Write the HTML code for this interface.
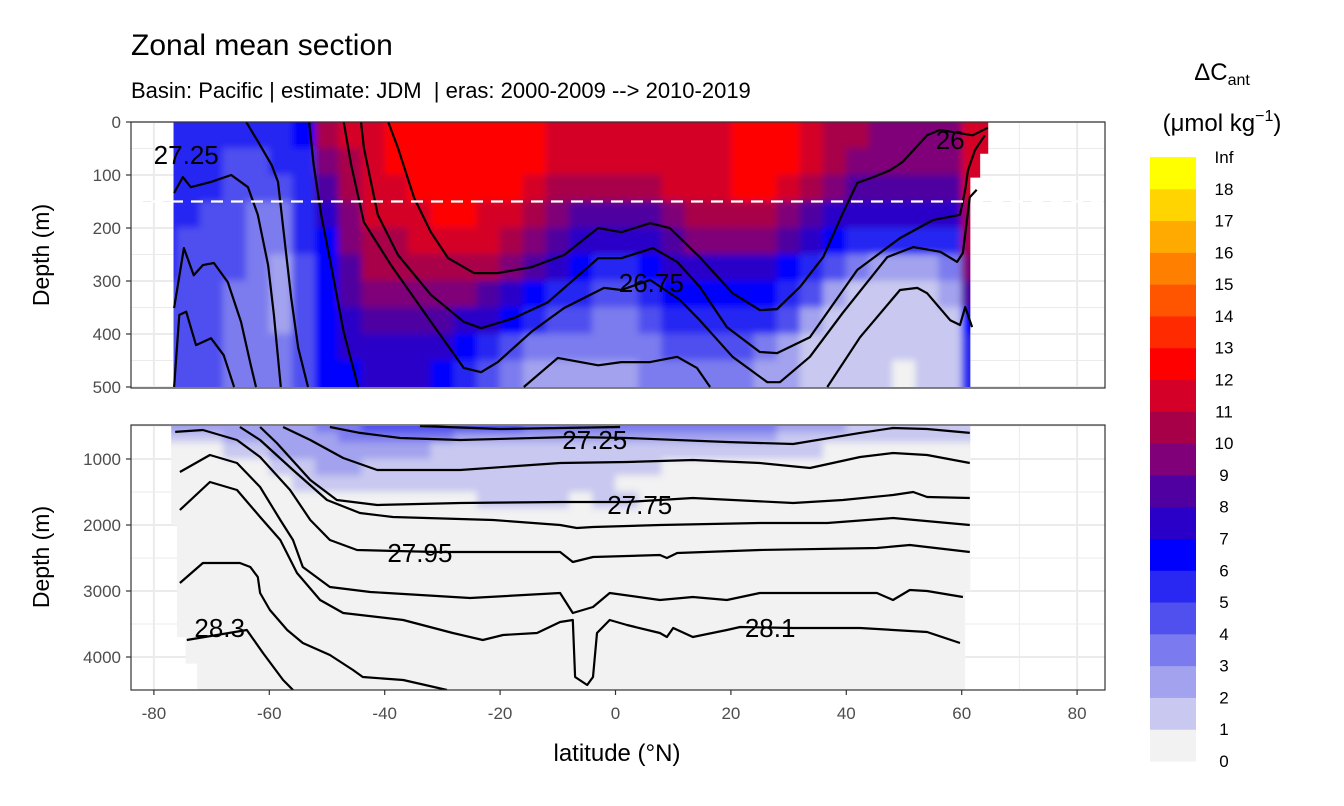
<!DOCTYPE html>
<html><head><meta charset="utf-8"><style>
html,body{margin:0;padding:0;background:#fff;}
svg{display:block;font-family:"Liberation Sans",Arial,sans-serif;}
</style></head><body>
<svg id="chart" width="1344" height="806" viewBox="0 0 1344 806" xmlns="http://www.w3.org/2000/svg">
<defs>
<clipPath id="clipTopPanel"><rect x="131" y="122" width="974" height="266"/></clipPath>
<clipPath id="clipBotPanel"><rect x="131" y="425" width="974" height="265"/></clipPath>
<clipPath id="clipTopData"><path id="topDataPath"/></clipPath>
<clipPath id="clipBotData"><path id="botDataPath"/></clipPath>
<filter id="soften" x="-5%" y="-5%" width="110%" height="110%"><feGaussianBlur stdDeviation="3.5"/></filter>
</defs>
<text x="131" y="55" font-size="30" fill="#000">Zonal mean section</text>
<text x="131" y="98" font-size="22" fill="#000" xml:space="preserve">Basin: Pacific | estimate: JDM  | eras: 2000-2009 --&gt; 2010-2019</text>
<g id="gTop"></g>
<g id="gBot"></g>
<g id="gAxes"></g>
<g id="gLegend">
<text x="1222" y="80" font-size="24" text-anchor="middle">ΔC<tspan font-size="16" dy="5">ant</tspan></text>
<text x="1222" y="131" font-size="24" text-anchor="middle">(μmol kg<tspan font-size="16" dy="-10">−1</tspan><tspan dy="10">)</tspan></text>
</g>
</svg>
<script>
const NS = "http://www.w3.org/2000/svg";
// ---- data ----
const bandColors = ["#f2f2f2","#c8c8f0","#a2a2ee","#7b7bef","#5050ef","#2828f2","#0000ff","#2a00c8","#5000a0","#7f0078","#a80048","#d40028","#ff0000","#ff2a00","#ff5500","#ff8000","#ffaa00","#ffd400","#ffff00"];
const legendLabels = ["0","1","2","3","4","5","6","7","8","9","10","11","12","13","14","15","16","17","18","Inf"];
const gridLats = [-78,-74,-70,-66,-62,-58,-54,-50,-46,-42,-38,-34,-30,-26,-22,-18,-14,-10,-6,-2,2,6,10,14,18,22,26,30,34,38,42,46,50,54,58,62];
const topDepthEdges = [0,50,100,150,200,250,300,350,400,450,500];
const topValues = [
[5,5,5,5,5,5,6,10,11,11,12,12,12,12,12,12,12,11,11,11,11,11,11,11,11,12,12,12,11,10,10,9,9,9,9,11],
[5,5,5,4,4,5,5,9,10,11,12,12,12,12,12,12,12,11,11,11,11,11,11,11,11,12,12,12,11,10,9,9,9,9,9,11],
[5,5,5,4,4,4,5,8,10,11,11,12,12,12,12,12,11,10,10,10,10,10,11,11,11,12,12,11,10,9,8,8,8,8,8,11],
[5,5,4,4,3,3,5,7,9,11,11,11,12,12,11,11,10,9,8,8,8,8,9,10,10,10,10,9,8,7,7,7,7,7,7,10],
[5,4,4,4,3,3,5,6,9,10,10,11,11,11,11,10,9,8,7,7,7,7,8,9,9,9,9,8,7,6,5,5,5,5,5,10],
[5,4,4,4,3,2,4,6,8,10,10,10,10,10,10,9,8,7,6,5,5,6,7,7,7,7,7,6,5,4,3,2,2,2,3,9],
[4,4,4,3,3,2,4,6,8,9,9,9,9,9,8,7,6,5,5,4,4,5,6,6,6,6,6,5,4,2,1,1,1,1,2,8],
[4,4,4,3,3,2,4,6,7,8,8,8,8,7,7,6,5,4,4,3,3,4,5,5,5,5,5,4,2,1,1,1,1,1,1,6],
[4,4,4,3,3,3,4,6,7,7,7,7,7,6,5,4,3,3,3,3,3,3,4,4,4,4,3,2,1,1,1,1,1,1,1,5],
[4,4,4,3,3,3,4,6,6,7,7,7,6,5,4,3,2,2,2,2,2,3,3,3,3,3,2,2,1,1,1,1,0,1,1,5]
];
const botDepthEdges = [500,600,750,1000,1250,1500,1750,2000,4500];
const botValues = [
[2,2,2,2,2,2,2,3,3,4,4,4,4,4,4,4,3,3,3,3,3,3,3,3,3,3,3,2,2,2,1,1,1,1,1,1],
[1,1,1,2,2,2,2,2,3,3,3,3,3,2,2,2,2,2,2,2,2,2,2,2,2,2,2,1,1,1,1,1,1,1,1,1],
[0,0,0,1,1,2,2,2,2,2,2,2,1,1,1,1,1,1,1,1,1,1,1,1,1,1,1,1,1,0,0,0,0,0,0,0],
[0,0,0,0,0,1,1,2,2,1,1,1,1,1,1,1,1,1,1,1,1,1,0,0,0,0,0,0,0,0,0,0,0,0,0,0],
[0,0,0,0,0,0,1,1,1,1,1,1,1,1,1,1,1,1,1,1,0,0,0,0,0,0,0,0,0,0,0,0,0,0,0,0],
[0,0,0,0,0,0,0,0,0,0,0,0,0,0,1,1,1,1,0,1,1,0,0,0,0,0,0,0,0,0,0,0,0,0,0,0],
[0,0,0,0,0,0,0,0,0,0,0,0,0,0,0,0,0,0,0,0,0,0,0,0,0,0,0,0,0,0,0,0,0,0,0,0],
[0,0,0,0,0,0,0,0,0,0,0,0,0,0,0,0,0,0,0,0,0,0,0,0,0,0,0,0,0,0,0,0,0,0,0,0]
];
// top-panel isopycnals (lat / depth)
const isoA_lat = [-39.4,-37.7,-34.9,-32.0,-29.0,-24.5,-20.4,-14.6,-8.9,-3.0,1.0,6.0,9.4,14.6,20.3,25.0,28.0,32.0,36.0,39.4,41.9,44.7,47.6,49.8,54.0,56.2,61.9,64.5];
const isoA_dep = [0,49,143,208,257,285,285,274,251,200,208,191,200,255,323,355,353,311,255,172,115,104,91,75,25,15,25,11];
const isoB_lat = [-44.1,-43.6,-41.2,-37.7,-32.0,-26.3,-23.3,-17.6,-11.7,-3.0,1.0,6.5,10.7,14.6,19.3,25.0,28.0,33.7,41.9,49.3,55.0,59.7,60.6,61.1,62.3,64.0];
const isoB_dep = [0,49,175,251,326,377,389,370,340,257,257,238,264,311,387,434,436,406,279,219,185,175,128,91,53,25];
const isoC_lat = [-47.1,-45.8,-43.6,-38.9,-32.0,-26.3,-23.3,-20.4,-14.6,-8.9,-2.0,1.0,6.0,11.2,14.6,20.3,26.3,28.5,33.7,39.4,47.1,51.6,56.3,59.2,60.2,61.4,62.6];
const isoC_dep = [0,81,189,270,377,464,472,453,396,351,313,317,298,336,374,443,491,491,443,360,255,236,245,264,247,142,128];
const isoD_lat = [36.7,42.4,49.3,52.3,54.0,58.0,59.7,60.6,61.8];
const isoD_dep = [500,406,317,313,323,374,383,349,387];
const isoE_lat = [-15.9,-10.0,-3.0,1.0,6.0,10.7,14.1,16.4];
const isoE_dep = [500,445,459,453,453,443,464,500];
const isoF_lat = [-53.1,-52.3,-51.0,-49.3,-47.1,-44.6];
const isoF_dep = [0,81,175,270,396,500];
const isoG_lat = [-64.0,-61.9,-59.6,-58.5,-57.5,-56.2,-55.0,-53.3];
const isoG_dep = [0,38,81,113,208,332,426,500];
const isoH_lat = [-76.5,-75.0,-73.6,-70.1,-66.6,-63.7,-62.0,-60.2,-59.2,-58.0];
const isoH_dep = [134,104,123,113,100,123,175,270,364,500];
const isoI_lat = [-76.5,-74.8,-73.1,-71.5,-69.6,-67.2,-64.9,-63.2,-62.3];
const isoI_dep = [351,238,289,270,266,302,377,459,500];
const isoJ_lat = [-76.5,-75.6,-74.4,-72.7,-71.5,-70.1,-67.9,-66.1];
const isoJ_dep = [500,364,358,421,415,408,440,500];
// bottom-panel isopycnals
const isoR1_lat = [-33.9,-20.0,-9.6,0.8];
const isoR1_dep = [500,545,530,515];
const isoR2_lat = [-49.5,-44.3,-37.3,-26.9,-7.9,2.0,19.3,30.8,42.4,48.1,54.0,61.4];
const isoR2_dep = [515,605,682,712,667,682,742,773,605,530,545,605];
const isoR3_lat = [-57.6,-52.9,-47.2,-41.3,-26.9,-9.6,2.0,13.4,25.0,33.7,42.4,48.1,54.0,61.4];
const isoR3_dep = [515,712,985,1167,1167,1061,1045,1015,1061,1136,970,909,939,1061];
const isoR4_lat = [-61.6,-58.7,-52.9,-48.3,-41.3,-26.9,-9.6,2.0,13.4,30.8,39.4,48.1,51.6,54.0,61.4];
const isoR4_dep = [515,758,1318,1621,1697,1667,1651,1651,1591,1667,1621,1545,1500,1576,1591];
const isoR5_lat = [-65.1,-61.6,-55.9,-50.0,-44.3,-38.6,-21.2,-9.6,-6.7,-3.9,7.7,25.0,36.7,48.1,61.4];
const isoR5_dep = [515,712,1167,1621,1818,1879,1924,2000,2045,2030,2000,1970,1970,1894,2000];
const isoR6_lat = [-76.3,-71.5,-65.6,-61.6,-56.4,-52.9,-49.5,-44.8,-30.9,-9.6,-7.4,-3.9,7.7,8.9,10.7,25.0,45.3,51.0,61.4];
const isoR6_dep = [590,560,712,970,1470,1924,2227,2379,2409,2409,2560,2485,2454,2500,2424,2379,2348,2303,2409];
const isoR7_lat = [-75.5,-70.3,-65.6,-61.6,-58.1,-55.9,-54.2,-49.5,-42.5,-25.2,-9.6,-7.4,-3.9,-1.0,7.7,13.4,19.3,25.0,45.3,48.1,51.0,54.0,60.2];
const isoR7_dep = [1197,939,1061,1424,1924,2227,2636,2939,3015,3106,3030,3333,3242,3030,3136,3091,3136,3030,3030,3136,2985,3000,3091];
const isoR8_lat = [-75.5,-70.3,-65.6,-61.6,-58.1,-55.2,-51.2,-47.2,-36.8,-28.2,-23.0,-19.5,-13.6,-9.6,-7.4,-7.0,-4.9,-3.9,-3.2,-1.0,2.0,7.7,8.9,10.0,13.4,19.3,21.6,30.8,42.4,54.0,59.7];
const isoR8_dep = [1773,1348,1470,1879,2227,2727,3136,3333,3439,3636,3742,3667,3636,3470,3439,4303,4424,4303,3636,3439,3515,3636,3697,3560,3697,3591,3545,3560,3560,3621,3788];
const isoR9_lat = [-75.5,-71.5,-65.1,-63.3,-62.0,-61.6,-59.9,-56.9,-54.2,-49.5,-45.5,-43.8,-36.8,-29.2];
const isoR9_dep = [2879,2576,2576,2636,2788,3030,3288,3591,3788,3970,4197,4303,4348,4500];
const isoR10_lat = [-74.3,-63.9,-61.1,-57.6,-55.9];
const isoR10_dep = [3742,3591,3939,4348,4500];
const topLabelText = ["27.25","26","26.75"];
const topLabelLat = [-74.4,58.0,6.2];
const topLabelDep = [62,34,304];
const botLabelText = ["27.25","27.75","27.95","28.3","28.1"];
const botLabelLat = [-3.6,4.2,-33.9,-68.6,26.8];
const botLabelDep = [712,1697,2424,3560,3560];
const xTicks = [-80,-60,-40,-20,0,20,40,60,80];
const xMinor = [-70,-50,-30,-10,10,30,50,70];
const topTicks = [0,100,200,300,400,500];
const topMinor = [50,150,250,350,450];
const botTicks = [1000,2000,3000,4000];
const botMinor = [500,1500,2500,3500];

// ---- scales ----
const xS = lat => 615.5 + lat * 5.77;
const yT = d => 122 + d * 0.53;
const yB = d => 426 + (d - 500) * 0.066;

function mk(tag, attrs, parent) {
  const el = document.createElementNS(NS, tag);
  for (const k in attrs) el.setAttribute(k, attrs[k]);
  parent.appendChild(el);
  return el;
}
const gTop = document.getElementById('gTop');
const gBot = document.getElementById('gBot');
const gAxes = document.getElementById('gAxes');
const gLeg = document.getElementById('gLegend');

document.getElementById('topDataPath').setAttribute('d',
  `M${xS(-76.6)},${yT(0)} L${xS(64.6)},${yT(0)} L${xS(64.6)},${yT(60)} L${xS(63.2)},${yT(60)} L${xS(63.2)},${yT(105)} L${xS(61.5)},${yT(105)} L${xS(61.5)},${yT(500)} L${xS(-76.6)},${yT(500)} Z`);
document.getElementById('botDataPath').setAttribute('d',
  `M${xS(-77)},${yB(500)} L${xS(61.5)},${yB(500)} L${xS(61.5)},${yB(3000)} L${xS(60.6)},${yB(3000)} L${xS(60.6)},${yB(4500)} L${xS(-72.5)},${yB(4500)} L${xS(-72.5)},${yB(4100)} L${xS(-74.5)},${yB(4100)} L${xS(-74.5)},${yB(3700)} L${xS(-76)},${yB(3700)} L${xS(-76)},${yB(2000)} L${xS(-77)},${yB(2000)} Z`);

function panel(g, y0, y1, yScale, ticks, minor) {
  const bg = mk('rect', {x:131, y:y0, width:974, height:y1-y0, fill:'#fff'}, g);
  
  
  minor.forEach(v => {
    const l = mk('line', {x1:131, x2:1105, y1:yScale(v), y2:yScale(v), stroke:'#ebebeb', 'stroke-width':1}, g);
    
    
  });
  xMinor.forEach(v => {
    const l = mk('line', {x1:xS(v), x2:xS(v), y1:y0, y2:y1, stroke:'#ebebeb', 'stroke-width':1}, g);
    
    
  });
  ticks.forEach(v => {
    const l = mk('line', {x1:131, x2:1105, y1:yScale(v), y2:yScale(v), stroke:'#ebebeb', 'stroke-width':2}, g);
    
    
  });
  xTicks.forEach(v => {
    const l = mk('line', {x1:xS(v), x2:xS(v), y1:y0, y2:y1, stroke:'#ebebeb', 'stroke-width':2}, g);
    
    
  });
}

function field(g, edges, values, yScale, clipId) {
  const outer = mk('g', {'clip-path':`url(#${clipId})`}, g);
  
  
  const fg = mk('g', {filter:'url(#soften)'}, outer);
  
  
  values.forEach((row, r) => {
    row.forEach((v, c) => {
      if (v < 0) return;
      let x0 = xS(gridLats[c] - 2), x1 = xS(gridLats[c] + 2);
      if (c === 0) x0 -= 15;
      if (c === row.length - 1) x1 += 15;
      let ya = yScale(edges[r]), yb = yScale(edges[r + 1]);
      if (r === 0) ya -= 15;
      if (r === values.length - 1) yb += 15;
      const cell = mk('rect', {x:x0 - 0.3, y:ya - 0.3, width:x1 - x0 + 0.6, height:yb - ya + 0.6, fill:bandColors[v]}, fg);
      
      
    });
  });
}

function iso(g, lats, deps, yScale, name) {
  const d = lats.map((la, i) => (i ? 'L' : 'M') + xS(la).toFixed(1) + ',' + yScale(deps[i]).toFixed(1)).join(' ');
  const p = mk('path', {d:d, fill:'none', stroke:'#000', 'stroke-width':2.2, 'stroke-linejoin':'round'}, g);
  
  
}

function labels(g, texts, lats, deps, yScale) {
  texts.forEach((t, i) => {
    const tx = mk('text', {x:xS(lats[i]), y:yScale(deps[i]) + 9, 'font-size':26, 'text-anchor':'middle', fill:'#000'}, g);
    tx.textContent = t;
    
    
  });
}

// ---- top panel ----
panel(gTop, 122, 388, yT, topTicks, topMinor);
field(gTop, topDepthEdges, topValues, yT, 'clipTopData');
const topLines = mk('g', {'clip-path':'url(#clipTopPanel)'}, gTop);


iso(topLines, isoA_lat, isoA_dep, yT, 'isopycnal-26');
iso(topLines, isoB_lat, isoB_dep, yT, 'isopycnal-26-5');
iso(topLines, isoC_lat, isoC_dep, yT, 'isopycnal-26-75');
iso(topLines, isoD_lat, isoD_dep, yT, 'isopycnal-27');
iso(topLines, isoE_lat, isoE_dep, yT, 'isopycnal-27-top');
iso(topLines, isoF_lat, isoF_dep, yT, 'isopycnal-south-1');
iso(topLines, isoG_lat, isoG_dep, yT, 'isopycnal-south-2');
iso(topLines, isoH_lat, isoH_dep, yT, 'isopycnal-south-3');
iso(topLines, isoI_lat, isoI_dep, yT, 'isopycnal-south-4');
iso(topLines, isoJ_lat, isoJ_dep, yT, 'isopycnal-south-5');
const dash = mk('line', {x1:131, x2:1105, y1:yT(150), y2:yT(150), stroke:'#fff', 'stroke-width':2.2, 'stroke-dasharray':'12,8'}, gTop);


labels(topLines, topLabelText, topLabelLat, topLabelDep, yT);
const bTop = mk('rect', {x:131, y:122, width:974, height:266, fill:'none', stroke:'#333', 'stroke-width':1.2}, gTop);



// ---- bottom panel ----
panel(gBot, 425, 690, yB, botTicks, botMinor);
field(gBot, botDepthEdges, botValues, yB, 'clipBotData');
const botLines = mk('g', {'clip-path':'url(#clipBotPanel)'}, gBot);


iso(botLines, isoR1_lat, isoR1_dep, yB, 'isopycnal-27-1');
iso(botLines, isoR2_lat, isoR2_dep, yB, 'isopycnal-27-25');
iso(botLines, isoR3_lat, isoR3_dep, yB, 'isopycnal-27-5');
iso(botLines, isoR4_lat, isoR4_dep, yB, 'isopycnal-27-75');
iso(botLines, isoR5_lat, isoR5_dep, yB, 'isopycnal-27-85');
iso(botLines, isoR6_lat, isoR6_dep, yB, 'isopycnal-27-95');
iso(botLines, isoR7_lat, isoR7_dep, yB, 'isopycnal-28-05');
iso(botLines, isoR8_lat, isoR8_dep, yB, 'isopycnal-28-1');
iso(botLines, isoR9_lat, isoR9_dep, yB, 'isopycnal-28-2');
iso(botLines, isoR10_lat, isoR10_dep, yB, 'isopycnal-28-3');
labels(botLines, botLabelText, botLabelLat, botLabelDep, yB);
const bBot = mk('rect', {x:131, y:425, width:974, height:265, fill:'none', stroke:'#333', 'stroke-width':1.2}, gBot);



// ---- axes ----
function yAxis(ticks, yScale) {
  ticks.forEach(v => {
    const tk = mk('line', {x1:126, x2:131, y1:yScale(v), y2:yScale(v), stroke:'#333', 'stroke-width':1.2}, gAxes);
    
    
    const t = mk('text', {x:121, y:yScale(v) + 6, 'font-size':17, 'text-anchor':'end', fill:'#4d4d4d'}, gAxes);
    t.textContent = v;
    
    
  });
}
yAxis(topTicks, yT);
yAxis(botTicks, yB);
xTicks.forEach(v => {
  const tk = mk('line', {x1:xS(v), x2:xS(v), y1:690, y2:695, stroke:'#333', 'stroke-width':1.2}, gAxes);
  
  
  const t = mk('text', {x:xS(v), y:719, 'font-size':17, 'text-anchor':'middle', fill:'#4d4d4d'}, gAxes);
  t.textContent = v;
  
  
});
[[255, 'top-y-axis-title'], [557, 'bottom-y-axis-title']].forEach(p => {
  const t = mk('text', {x:0, y:0, 'font-size':23, 'text-anchor':'middle', transform:`translate(49,${p[0]}) rotate(-90)`}, gAxes);
  t.textContent = 'Depth (m)';
  
  
});
const xt = mk('text', {x:617, y:761, 'font-size':24, 'text-anchor':'middle'}, gAxes);
xt.textContent = 'latitude (°N)';



// ---- colorbar ----
const cbTop = 157, cbBot = 761, cbStep = (cbBot - cbTop) / bandColors.length;
bandColors.forEach((c, i) => {
  const r = mk('rect', {x:1150, y:cbBot - (i + 1) * cbStep, width:46, height:cbStep + 0.5, fill:c}, gLeg);
  
  
});
legendLabels.forEach((l, i) => {
  const t = mk('text', {x:1224, y:cbBot - i * cbStep + 6, 'font-size':17, 'text-anchor':'middle', fill:'#000'}, gLeg);
  t.textContent = l;
  
  
});
</script>
</body></html>
